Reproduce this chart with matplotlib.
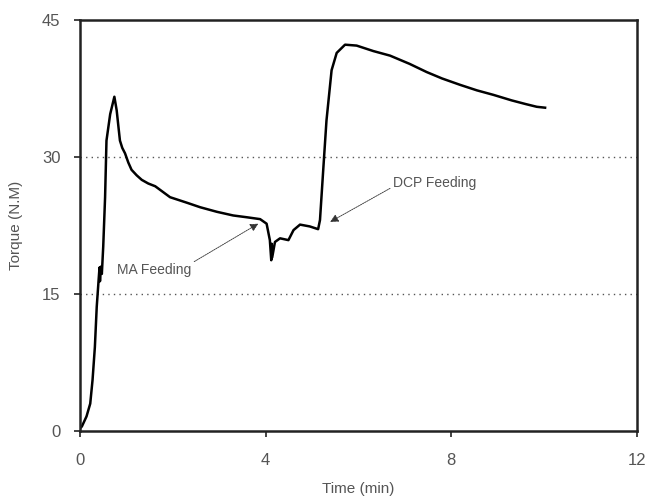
import numpy as np
import matplotlib.pyplot as plt

# torque trace
time_min = [0.0, 0.04, 0.14, 0.22, 0.27, 0.32, 0.36, 0.40, 0.42, 0.43, 0.45, 0.47, 0.50,
            0.54, 0.57, 0.65, 0.74, 0.79, 0.83, 0.86, 0.91, 0.97, 1.04, 1.11, 1.22, 1.33,
            1.47, 1.62, 1.94, 2.30, 2.59, 2.95, 3.30, 3.60, 3.88, 4.02, 4.09, 4.12, 4.13,
            4.14, 4.20, 4.31, 4.49, 4.60, 4.74, 4.95, 5.13, 5.17, 5.24, 5.31, 5.42, 5.53,
            5.71, 5.96, 6.32, 6.68, 7.10, 7.47, 7.80, 8.19, 8.55, 8.91, 9.30, 9.60, 9.84,
            10.02]
torque = [0.3, 0.5, 1.6, 3.0, 5.6, 9.2, 13.6, 16.5, 17.9, 16.4, 18.0, 17.2, 20.2,
          25.6, 31.8, 34.7, 36.6, 35.1, 33.2, 31.8, 31.0, 30.4, 29.4, 28.6, 28.0, 27.5,
          27.1, 26.8, 25.6, 25.0, 24.5, 24.0, 23.6, 23.4, 23.2, 22.7, 20.9, 18.7, 20.5,
          19.0, 20.7, 21.1, 20.9, 22.0, 22.6, 22.4, 22.1, 23.1, 28.6, 34.0, 39.5, 41.4,
          42.3, 42.2, 41.6, 41.1, 40.2, 39.3, 38.6, 37.9, 37.3, 36.8, 36.2, 35.8, 35.5,
          35.4]

x_ticks = [0, 4, 8, 12]
y_ticks = [0, 15, 30, 45]

plt.rcParams['font.family'] = ['Liberation Sans', 'DejaVu Sans']
fig = plt.figure(figsize=(6.49, 5.03), dpi=100)
ax = fig.add_axes([0.1233, 0.1431, 0.8582, 0.8171])

ax.plot(time_min, torque, color='black', linewidth=1.8)

for yv in [15, 30]:
    ax.axhline(yv, color='#555555', linestyle=(0, (1, 3)), linewidth=1.0, zorder=0)

ax.annotate('MA Feeding', xy=(3.84, 22.7), xytext=(0.8, 17.6),
            fontsize=10, color='#555555', va='center', ha='left',
            arrowprops=dict(arrowstyle='-|>', color='#333333', linewidth=0.6,
                            linestyle=(0, (2, 1)), shrinkA=0, shrinkB=0,
                            mutation_scale=12, relpos=(1.0, 1.0)))
ax.annotate('DCP Feeding', xy=(5.39, 22.9), xytext=(6.74, 27.2),
            fontsize=10, color='#555555', va='center', ha='left',
            arrowprops=dict(arrowstyle='-|>', color='#333333', linewidth=0.6,
                            linestyle=(0, (2, 1)), shrinkA=0, shrinkB=0,
                            mutation_scale=12, relpos=(0.0, 0.2)))

ax.set_xlim(0, 12)
ax.set_ylim(0, 45)
ax.set_xticks(x_ticks)
ax.set_yticks(y_ticks)
ax.tick_params(direction='out', length=4, width=1.2, labelsize=12,
               labelcolor='#555555', color='#222222')
ax.tick_params(axis='x', pad=12)
ax.tick_params(axis='y', pad=10)
for s in ax.spines.values():
    s.set_linewidth(1.8)
    s.set_color('#222222')

ax.set_xlabel('Time (min)', fontsize=11, color='#555555', labelpad=10)
ax.set_ylabel('Torque (N.M)', fontsize=11, color='#555555', labelpad=14)

fig.savefig('out.png', dpi=100)
